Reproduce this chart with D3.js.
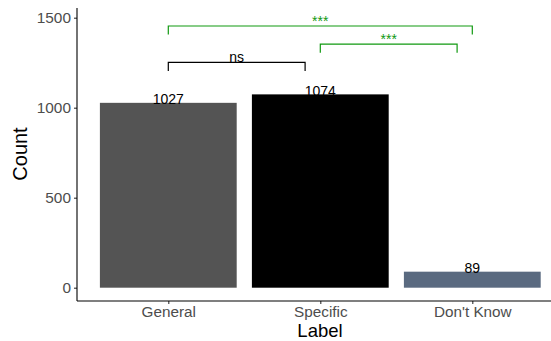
<!DOCTYPE html>
<html>
<head>
<meta charset="utf-8">
<script src="https://cdn.jsdelivr.net/npm/d3@7"></script>
<style>
  html, body { margin: 0; padding: 0; background: #fff; }
  svg { display: block; font-family: "Liberation Sans", Arial, sans-serif; }
</style>
</head>
<body>
<svg id="chart" width="551" height="341"></svg>
<script>
// Counts per label category
const categories = ["General", "Specific", "Don't Know"];
const counts = [1027, 1074, 89];
const barColors = ["#545454", "#000000", "#5a6a80"];
const yTicks = [0, 500, 1000, 1500];

// Pairwise comparison brackets (positions in category units, 1-based)
const bracketStart = [1, 2, 1];
const bracketEnd = [1.9, 2.9, 3];
const bracketLevel = [1252, 1353, 1454];
const bracketLabels = ["ns", "***", "***"];
const bracketColors = ["#000000", "#119911", "#119911"];

const svg = d3.select("#chart");

const panel = { left: 77, top: 8, bottom: 301 };

const y = d3.scaleLinear().domain([0, 1500]).range([287.7, 17.7]);
const x = d3.scalePoint().domain(categories).range([168.3, 472.3]);
const xPos = d3.scaleLinear().domain([1, 3]).range([168.3, 472.3]);
const barWidth = x.step() * 0.9;
const tip = 48;

// Bars
svg.append("g").selectAll("rect")
  .data(categories)
  .join("rect")
  .attr("x", (d) => x(d) - barWidth / 2)
  .attr("width", barWidth)
  .attr("y", (d, i) => y(counts[i]))
  .attr("height", (d, i) => y(0) - y(counts[i]))
  .attr("fill", (d, i) => barColors[i]);

// Value labels
svg.append("g").selectAll("text")
  .data(categories)
  .join("text")
  .attr("x", (d) => x(d))
  .attr("y", (d, i) => y(counts[i]) + 1.5)
  .attr("text-anchor", "middle")
  .attr("font-size", "14px")
  .attr("fill", "#000")
  .text((d, i) => counts[i]);

// Y axis
const yAxis = svg.append("g")
  .attr("transform", `translate(${panel.left},0)`)
  .call(d3.axisLeft(y).tickValues(yTicks).tickSize(3).tickPadding(3).tickFormat(d3.format("d")));
yAxis.select(".domain").remove();
yAxis.append("line")
  .attr("x1", 0).attr("x2", 0)
  .attr("y1", panel.top).attr("y2", panel.bottom)
  .attr("stroke", "#000").attr("stroke-width", 1.1);
yAxis.selectAll(".tick line").attr("stroke", "#333").attr("stroke-width", 1.1);
yAxis.selectAll(".tick text")
  .attr("font-size", "15.4px")
  .attr("fill", "#4d4d4d")
  .attr("font-family", "Liberation Sans, Arial, sans-serif");

// X axis
const xAxis = svg.append("g")
  .attr("transform", `translate(0,${panel.bottom})`)
  .call(d3.axisBottom(x).tickSize(3).tickPadding(2.5));
xAxis.select(".domain").remove();
xAxis.append("line")
  .attr("x1", panel.left).attr("x2", 563)
  .attr("y1", 0).attr("y2", 0)
  .attr("stroke", "#000").attr("stroke-width", 1.1);
xAxis.selectAll(".tick line").attr("stroke", "#333").attr("stroke-width", 1.1);
xAxis.selectAll(".tick text")
  .attr("font-size", "15.3px")
  .attr("fill", "#4d4d4d")
  .attr("font-family", "Liberation Sans, Arial, sans-serif");

// Axis titles
svg.append("text")
  .attr("x", 320).attr("y", 337.2)
  .attr("text-anchor", "middle")
  .attr("font-size", "18.5px")
  .attr("fill", "#000")
  .text("Label");
svg.append("text")
  .attr("transform", "translate(27,154) rotate(-90)")
  .attr("text-anchor", "middle")
  .attr("font-size", "20px")
  .attr("fill", "#000")
  .text("Count");

// Significance brackets
const brackets = svg.append("g").selectAll("g")
  .data(bracketLabels)
  .join("g");
brackets.append("path")
  .attr("d", (d, i) => {
    const x1 = xPos(bracketStart[i]), x2 = xPos(bracketEnd[i]);
    const yTop = y(bracketLevel[i]), yTip = y(bracketLevel[i] - tip);
    return `M${x1},${yTip}V${yTop}H${x2}V${yTip}`;
  })
  .attr("fill", "none")
  .attr("stroke", (d, i) => bracketColors[i])
  .attr("stroke-width", 1.2);
brackets.append("text")
  .attr("x", (d, i) => (xPos(bracketStart[i]) + xPos(bracketEnd[i])) / 2)
  .attr("y", (d, i) => y(bracketLevel[i]))
  .attr("text-anchor", "middle")
  .attr("font-size", "14px")
  .attr("fill", (d, i) => bracketColors[i])
  .text((d) => d);
</script>
</body>
</html>
